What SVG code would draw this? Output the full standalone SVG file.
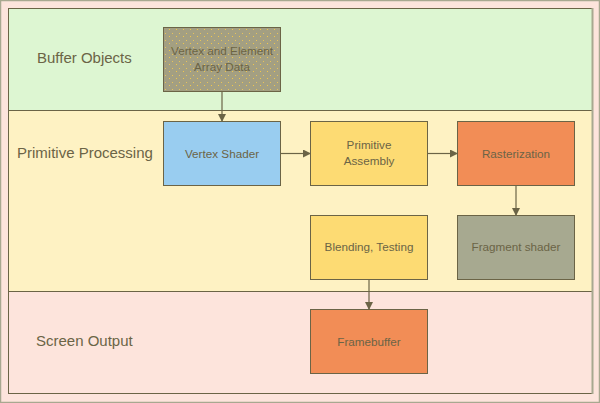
<svg xmlns="http://www.w3.org/2000/svg" width="600" height="403" viewBox="0 0 600 403">
<defs>
<style>
.lbl{font-family:"Liberation Sans",Arial,sans-serif;font-size:15px;fill:#6b6446}
.t{font-family:"Liberation Sans",Arial,sans-serif;font-size:11.7px;fill:#6b6446;text-anchor:middle}
.box{stroke:#6b6446;stroke-width:1}
.con{stroke:#6b6446;stroke-width:1.2;fill:none;marker-end:url(#ah)}
</style>
<marker id="ah" markerWidth="8" markerHeight="8" refX="7" refY="4" orient="auto" markerUnits="userSpaceOnUse">
<path d="M0,0 L8,4 L0,8 Z" fill="#6b6446"/>
</marker>
<pattern id="dots" width="7" height="7" patternUnits="userSpaceOnUse">
<rect width="7" height="7" fill="#a39f82"/>
<rect x="1" y="1" width="1" height="1" fill="#f2c84a"/>
<rect x="4" y="5" width="1" height="1" fill="#e8c45a"/>
</pattern>
</defs>
<rect x="0" y="0" width="600" height="403" fill="#fde4dc"/>
<rect x="0.5" y="0.5" width="599" height="402" fill="none" stroke="#a8a890" stroke-width="1.5"/>
<g id="band-buffer">
<rect x="8.5" y="8.5" width="584" height="102" fill="#ddf6d2" stroke="#6b6446" stroke-width="1"/>
<text class="lbl" x="37" y="63">Buffer Objects</text>
</g>
<g id="band-primitive">
<rect x="8.5" y="110.5" width="584" height="181" fill="#fef2c3" stroke="#6b6446" stroke-width="1"/>
<text class="lbl" x="17" y="158">Primitive Processing</text>
</g>
<g id="band-screen">
<rect x="8.5" y="291.5" width="584" height="102" fill="#fde4dc" stroke="#6b6446" stroke-width="1"/>
<text class="lbl" x="36" y="346">Screen Output</text>
</g>
<line x1="592.5" y1="8" x2="592.5" y2="394" stroke="#a8a890" stroke-width="2"/>
<g id="vertex-data">
<rect class="box" x="163.5" y="27.5" width="117" height="64" fill="url(#dots)"/>
<text class="t" x="222" y="55">Vertex and Element</text>
<text class="t" x="222" y="71">Array Data</text>
</g>
<g id="vertex-shader">
<rect class="box" x="163.5" y="121.5" width="117" height="64" fill="#99cdf0"/>
<text class="t" x="222" y="158">Vertex Shader</text>
</g>
<g id="primitive-assembly">
<rect class="box" x="310.5" y="121.5" width="117" height="64" fill="#fddb73"/>
<text class="t" x="369" y="149">Primitive</text>
<text class="t" x="369" y="165">Assembly</text>
</g>
<g id="rasterization">
<rect class="box" x="457.5" y="121.5" width="117" height="64" fill="#f28d56"/>
<text class="t" x="516" y="158">Rasterization</text>
</g>
<g id="blending">
<rect class="box" x="310.5" y="215.5" width="117" height="64" fill="#fddb73"/>
<text class="t" x="369" y="251">Blending, Testing</text>
</g>
<g id="fragment-shader">
<rect class="box" x="457.5" y="215.5" width="117" height="64" fill="#a7a990"/>
<text class="t" x="516" y="251">Fragment shader</text>
</g>
<g id="framebuffer">
<rect class="box" x="310.5" y="309.5" width="117" height="64" fill="#f28d56"/>
<text class="t" x="369" y="346">Framebuffer</text>
</g>
<g id="connectors">
<line class="con" x1="222" y1="92" x2="222" y2="121" stroke="#a5a38c"/>
<line class="con" x1="281" y1="153.5" x2="310" y2="153.5"/>
<line class="con" x1="428" y1="153.5" x2="457" y2="153.5"/>
<line class="con" x1="516" y1="186" x2="516" y2="215"/>
<line class="con" x1="369" y1="280" x2="369" y2="309"/>
</g>
</svg>
